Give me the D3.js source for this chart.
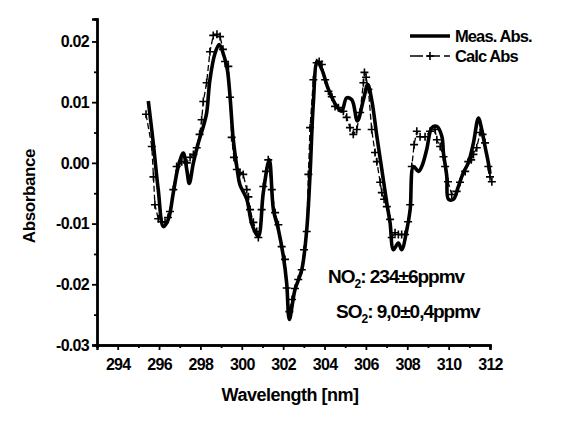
<!DOCTYPE html>
<html><head><meta charset="utf-8">
<script src="https://cdn.jsdelivr.net/npm/d3@7"></script>
<style>
body{margin:0;background:#fff}
svg text{font-family:"Liberation Sans",Arial,sans-serif;font-weight:bold;fill:#000}
</style>
</head><body>
<svg id="c" width="579" height="423"></svg>
<script>
// ---- data ----
const measWl = [295.48,295.72,295.96,296.21,296.45,296.69,296.93,297.17,297.34,297.46,297.66,297.90,298.14,298.30,298.46,298.71,298.91,299.14,299.30,299.43,299.59,299.78,299.91,300.24,300.50,300.80,301.04,301.33,301.53,301.77,302.01,302.17,302.30,302.57,302.90,303.14,303.30,303.46,303.65,303.87,304.19,304.59,304.83,305.07,305.32,305.59,305.88,306.09,306.28,306.53,306.77,307.01,307.17,307.33,307.57,307.73,307.98,308.14,308.30,308.54,308.70,308.94,309.19,309.43,309.67,309.75,309.91,309.99,310.23,310.47,310.71,310.95,311.20,311.44,311.60,311.76,311.92,312.00];
const measAbs = [0.0102,0.0033,-0.0044,-0.0105,-0.0093,-0.0049,-0.0006,0.0016,-0.0011,-0.0034,0.0000,0.0033,0.0060,0.0082,0.0137,0.0181,0.0195,0.0176,0.0154,0.0110,0.0038,-0.0011,-0.0036,-0.0060,-0.0102,-0.0121,-0.0049,0.0005,-0.0077,-0.0110,-0.0154,-0.0198,-0.0258,-0.0209,-0.0176,-0.0110,-0.0019,0.0099,0.0167,0.0154,0.0121,0.0093,0.0085,0.0107,0.0104,0.0069,0.0104,0.0129,0.0104,0.0044,-0.0011,-0.0066,-0.0099,-0.0143,-0.0132,-0.0143,-0.0110,-0.0077,-0.0006,-0.0014,-0.0006,0.0022,0.0058,0.0060,0.0044,0.0016,-0.0022,-0.0060,-0.0060,-0.0039,-0.0016,0.0000,0.0033,0.0074,0.0055,0.0027,0.0000,-0.0018];
const calcWl = [295.37,295.65,295.73,295.80,295.96,296.13,296.29,296.43,296.53,296.69,296.85,297.10,297.34,297.50,297.66,297.82,297.96,298.06,298.14,298.30,298.46,298.62,298.80,298.95,299.09,299.19,299.35,299.43,299.51,299.62,299.76,299.91,300.07,300.24,300.32,300.40,300.56,300.72,300.80,300.96,301.04,301.17,301.28,301.45,301.61,301.77,301.93,302.09,302.17,302.30,302.43,302.57,302.73,302.90,303.01,303.14,303.22,303.30,303.46,303.62,303.74,303.87,304.03,304.19,304.35,304.51,304.67,304.91,305.07,305.23,305.39,305.56,305.72,305.88,305.93,306.01,306.12,306.28,306.44,306.53,306.69,306.77,306.88,307.01,307.17,307.25,307.41,307.57,307.73,307.89,308.04,308.14,308.22,308.33,308.46,308.62,308.86,309.10,309.34,309.43,309.59,309.75,309.83,309.97,310.15,310.39,310.55,310.80,310.95,311.09,311.20,311.36,311.52,311.64,311.76,311.92,312.00,312.09];
const calcAbs = [0.0080,0.0027,-0.0023,-0.0069,-0.0092,-0.0097,-0.0098,-0.0090,-0.0080,-0.0044,-0.0006,0.0002,0.0000,0.0009,0.0014,0.0025,0.0047,0.0071,0.0101,0.0132,0.0183,0.0210,0.0212,0.0208,0.0187,0.0167,0.0159,0.0108,0.0042,0.0009,-0.0011,-0.0016,-0.0019,-0.0044,-0.0056,-0.0077,-0.0098,-0.0113,-0.0123,-0.0077,-0.0039,-0.0014,0.0005,-0.0044,-0.0082,-0.0102,-0.0138,-0.0159,-0.0206,-0.0245,-0.0225,-0.0207,-0.0192,-0.0176,-0.0143,-0.0113,-0.0019,0.0058,0.0137,0.0165,0.0167,0.0162,0.0137,0.0118,0.0109,0.0093,0.0091,0.0085,0.0075,0.0058,0.0047,0.0055,0.0083,0.0132,0.0149,0.0141,0.0121,0.0055,0.0017,0.0002,-0.0032,-0.0049,-0.0060,-0.0072,-0.0093,-0.0123,-0.0115,-0.0118,-0.0118,-0.0118,-0.0097,-0.0069,-0.0006,0.0030,0.0052,0.0043,0.0043,0.0052,0.0055,0.0038,0.0027,0.0010,-0.0006,-0.0031,-0.0052,-0.0047,-0.0032,-0.0014,0.0002,0.0005,0.0014,0.0025,0.0050,0.0047,0.0033,-0.0006,-0.0023,-0.0031];
const xTicks = [294,296,298,300,302,304,306,308,310,312];
const xMinor = [293,295,297,299,301,303,305,307,309,311];
const yTicks = [-0.03,-0.02,-0.01,0.00,0.01,0.02];
const yMinor = [-0.025,-0.015,-0.005,0.005,0.015];
const seriesNames = ["Meas. Abs.","Calc Abs"];
const xTitle = "Wavelength [nm]";
const yTitle = "Absorbance";

// ---- drawing ----
const svg = d3.select("#c");
const x = d3.scaleLinear().domain([293, 312]).range([97, 490]);
const y = d3.scaleLinear().domain([-0.03, 0.0237]).range([345, 19]);
const fmt = d => d.toFixed(2);

const gx = svg.append("g").attr("transform","translate(0,345)");
gx.call(d3.axisBottom(x).tickValues(xTicks).tickSize(5).tickPadding(9).tickFormat(d3.format("d")));
gx.append("g").call(d3.axisBottom(x).tickValues(xMinor).tickSize(3).tickFormat(""));
const gy = svg.append("g").attr("transform","translate(97,0)");
gy.call(d3.axisLeft(y).tickValues(yTicks).tickSize(5).tickPadding(3).tickFormat(fmt));
gy.append("g").call(d3.axisLeft(y).tickValues(yMinor).tickSize(3).tickFormat(""));
svg.selectAll(".domain").attr("stroke","#000").attr("stroke-width",2.4);
svg.selectAll(".tick line").attr("stroke","#000").attr("stroke-width",1.8);
gx.selectAll("text").style("font-size","16px").style("letter-spacing","-0.7px");
gy.selectAll("text").style("font-size","16px").style("letter-spacing","-0.7px");

svg.append("text").attr("x",290).attr("y",401).attr("text-anchor","middle")
  .style("font-size","18px").style("letter-spacing","-0.5px").text(xTitle);
svg.append("text").attr("transform","translate(35,196) rotate(-90)").attr("text-anchor","middle")
  .style("font-size","17px").style("letter-spacing","-0.4px").text(yTitle);

const meas = measWl.map((w,i)=>[w,measAbs[i]]);
const calc = calcWl.map((w,i)=>[w,calcAbs[i]]);

svg.append("path").datum(calc)
  .attr("fill","none").attr("stroke","#000").attr("stroke-width",1.3).attr("stroke-dasharray","6,3")
  .attr("d", d3.line().x(d=>x(d[0])).y(d=>y(d[1])));
svg.append("g").selectAll("path").data(calc).join("path")
  .attr("transform", d=>`translate(${x(d[0])},${y(d[1])})`)
  .attr("d","M-4,0H4M0,-4V4").attr("stroke","#000").attr("stroke-width",1.6).attr("fill","none");

svg.append("path").datum(meas)
  .attr("fill","none").attr("stroke","#000").attr("stroke-width",3.6).attr("stroke-linejoin","round")
  .attr("d", d3.line().curve(d3.curveCatmullRom).x(d=>x(d[0])).y(d=>y(d[1])));

// legend
const lg = svg.append("g").attr("transform","translate(410,0)");
lg.append("line").attr("x1",0).attr("x2",40).attr("y1",36).attr("y2",36).attr("stroke","#000").attr("stroke-width",3.4);
lg.append("text").attr("x",45).attr("y",42).style("font-size","16.5px").style("letter-spacing","-0.9px").text(seriesNames[0]);
lg.append("line").attr("x1",0).attr("x2",40).attr("y1",56).attr("y2",56).attr("stroke","#000").attr("stroke-width",1.4).attr("stroke-dasharray","13,4");
lg.append("path").attr("d","M16,56H24M20,52V60").attr("stroke","#000").attr("stroke-width",1.6);
lg.append("text").attr("x",45).attr("y",62).style("font-size","16.5px").style("letter-spacing","-0.9px").text(seriesNames[1]);

// annotations
function chem(xp, yp, a, sub, rest){
  const t = svg.append("text").attr("x",xp).attr("y",yp).style("font-size","19px").style("letter-spacing","-1px");
  t.append("tspan").text(a);
  t.append("tspan").attr("dy",5).style("font-size","12px").text(sub);
  t.append("tspan").attr("dy",-5).text(rest);
}
chem(328, 283, "NO", "2", ": 234±6ppmv");
chem(336, 318, "SO", "2", ": 9,0±0,4ppmv");
</script>
</body></html>
